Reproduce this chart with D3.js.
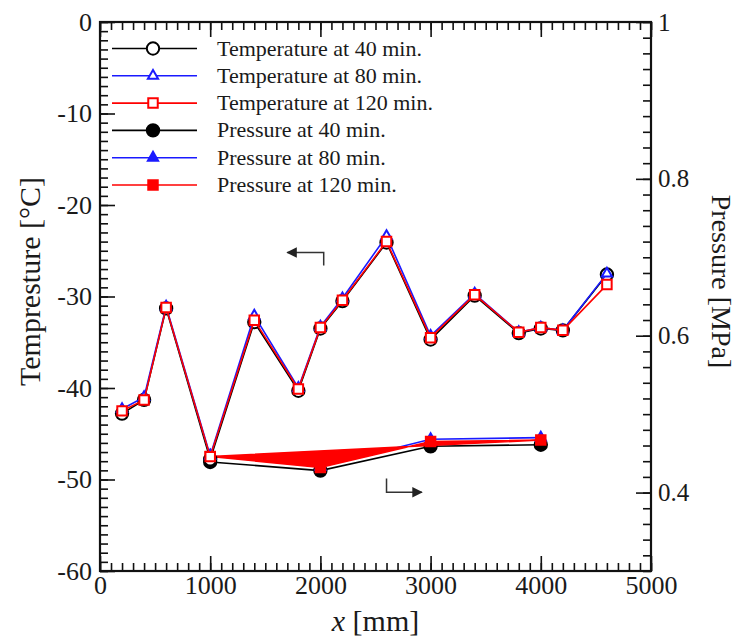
<!DOCTYPE html>
<html>
<head>
<meta charset="utf-8">
<script src="https://cdn.jsdelivr.net/npm/d3@7"></script>
<style>
  body { margin: 0; background: #fff; }
  svg text { font-family: "Liberation Serif", "Times New Roman", serif; fill: #1a1a1a; }
</style>
</head>
<body>
<div id="chart"></div>
<script>
// positions along the pipe [mm]
var tempX = [200, 400, 600, 1000, 1400, 1800, 2000, 2200, 2600, 3000, 3400, 3800, 4000, 4200, 4600];
var temp40 = [-42.8, -41.3, -31.3, -47.8, -32.8, -40.3, -33.5, -30.5, -24.1, -34.7, -29.9, -34.0, -33.5, -33.7, -27.6];
var temp80 = [-42.3, -41.0, -31.1, -47.4, -32.1, -40.0, -33.3, -30.2, -23.4, -34.3, -29.7, -33.9, -33.4, -33.7, -27.5];
var temp120 = [-42.5, -41.3, -31.2, -47.5, -32.6, -40.1, -33.4, -30.4, -24.0, -34.5, -29.8, -33.9, -33.4, -33.7, -28.7];

var presX = [1000, 2000, 3000, 4000];
var pres40 = [0.439, 0.428, 0.459, 0.461];
var pres80 = [0.447, 0.433, 0.468, 0.470];
var pres120 = [0.446, 0.432, 0.465, 0.467];

var xTicks = [0, 1000, 2000, 3000, 4000, 5000];
var tTicks = [0, -10, -20, -30, -40, -50, -60];
var pTicks = [0.4, 0.6, 0.8, 1];

var legendLabels = ["Temperature at 40 min.", "Temperature at 80 min.", "Temperature at 120 min.",
                    "Pressure at 40 min.", "Pressure at 80 min.", "Pressure at 120 min."];

var serif = "'Liberation Serif', 'Times New Roman', serif";

var margin = {top: 22, right: 88, bottom: 68, left: 100},
    width = 739 - margin.left - margin.right,
    height = 639 - margin.top - margin.bottom;

var svg = d3.select("#chart")
  .append("svg")
    .attr("width", 739)
    .attr("height", 639)
  .append("g")
    .attr("transform", "translate(" + margin.left + "," + margin.top + ")");

var x = d3.scaleLinear().domain([0, 5000]).range([0, width]);
var yT = d3.scaleLinear().domain([-60, 0]).range([height, 0]);
var yP = d3.scaleLinear().domain([0.3, 1]).range([height, 0]);

// minor tick positions
function minor(step, lo, hi) {
  return d3.range(lo, hi + step / 2, step);
}

// bottom axis
svg.append("g")
  .attr("transform", "translate(0," + height + ")")
  .call(d3.axisBottom(x).tickValues(minor(100, 0, 5000)).tickSize(-8).tickFormat(""));
svg.append("g")
  .attr("class", "major")
  .attr("transform", "translate(0," + height + ")")
  .call(d3.axisBottom(x).tickValues(xTicks).tickSize(-15).tickPadding(5).tickFormat(function(d) { return String(d); }));

// top axis
svg.append("g")
  .call(d3.axisTop(x).tickValues(minor(100, 0, 5000)).tickSize(-8).tickFormat(""));
svg.append("g")
  .call(d3.axisTop(x).tickValues(xTicks).tickSize(-15).tickFormat(""));

// left axis
svg.append("g")
  .call(d3.axisLeft(yT).tickValues(minor(1, -60, 0)).tickSize(-8).tickFormat(""));
svg.append("g")
  .attr("class", "major")
  .call(d3.axisLeft(yT).tickValues(tTicks).tickSize(-15).tickPadding(8).tickFormat(function(d) { return String(d); }));

// right axis
svg.append("g")
  .attr("transform", "translate(" + width + ",0)")
  .call(d3.axisRight(yP).tickValues(minor(0.02, 0.3, 1)).tickSize(-8).tickFormat(""));
svg.append("g")
  .attr("class", "major right")
  .attr("transform", "translate(" + width + ",0)")
  .call(d3.axisRight(yP).tickValues(pTicks).tickSize(-15).tickPadding(7).tickFormat(function(d) { return d === 1 ? "1" : d3.format(".1f")(d); }));

svg.selectAll(".domain").remove();
svg.selectAll(".major").attr("font-family", serif).attr("font-size", 26);
svg.selectAll(".right").attr("font-size", 25);
svg.selectAll(".tick line").attr("stroke", "#111").attr("stroke-width", 1.6);
svg.selectAll(".major .tick text").attr("fill", "#1a1a1a");

// frame
svg.append("rect")
  .attr("x", 0).attr("y", 0)
  .attr("width", width).attr("height", height)
  .attr("fill", "none")
  .attr("stroke", "#111")
  .attr("stroke-width", 2.2);

// marker shapes
var circ = d3.symbol().type(d3.symbolCircle).size(120);
var tri = d3.symbol().type(d3.symbolTriangle).size(45);
var sq = d3.symbol().type(d3.symbolSquare).size(90);

function series(xs, ys, yScale, color, shape, fill, closeFill) {
  var pts = xs.map(function(v, i) { return [x(v), yScale(ys[i])]; });
  var line = d3.line();
  svg.append("path")
    .attr("d", line(pts) + (closeFill ? "Z" : ""))
    .attr("fill", closeFill || "none")
    .attr("stroke", color)
    .attr("stroke-width", 1.6);
  svg.append("g")
    .selectAll("path")
    .data(pts)
    .enter()
    .append("path")
    .attr("transform", function(d) { return "translate(" + d[0] + "," + d[1] + ")"; })
    .attr("d", shape)
    .attr("fill", fill)
    .attr("stroke", color)
    .attr("stroke-width", 2);
}

// pressure first so temperature is drawn over it
series(presX, pres40, yP, "#000", circ, "#000");
series(presX, pres80, yP, "#1a1aff", tri, "#1a1aff");
series(presX, pres120, yP, "#ff0000", sq, "#ff0000", "#ff0000");

series(tempX, temp40, yT, "#000", circ, "#fff");
series(tempX, temp80, yT, "#1a1aff", tri, "#fff");
series(tempX, temp120, yT, "#ff0000", sq, "#fff");

// arrows showing which axis each group belongs to
svg.append("defs").append("marker")
  .attr("id", "head")
  .attr("viewBox", "0 0 10 10")
  .attr("refX", 9).attr("refY", 5)
  .attr("markerWidth", 7).attr("markerHeight", 7)
  .attr("orient", "auto")
  .append("path")
    .attr("d", "M0,0L10,5L0,10z")
    .attr("fill", "#222");

svg.append("path")
  .attr("d", "M" + x(2030) + "," + yT(-26.6) + "V" + yT(-25.2) + "H" + x(1700))
  .attr("fill", "none").attr("stroke", "#333").attr("stroke-width", 1.5)
  .attr("marker-end", "url(#head)");

svg.append("path")
  .attr("d", "M" + x(2600) + "," + yT(-49.9) + "V" + yT(-51.4) + "H" + x(2920))
  .attr("fill", "none").attr("stroke", "#333").attr("stroke-width", 1.5)
  .attr("marker-end", "url(#head)");

// legend
var legColors = ["#000", "#1a1aff", "#ff0000", "#000", "#1a1aff", "#ff0000"];
var legShapes = [circ, tri, sq, circ, tri, sq];
var legFills = ["#fff", "#fff", "#fff", "#000", "#1a1aff", "#ff0000"];

var leg = svg.append("g");
legendLabels.forEach(function(lab, i) {
  var ly = 26.5 + i * 27.3;
  leg.append("line")
    .attr("x1", 12).attr("x2", 97)
    .attr("y1", ly).attr("y2", ly)
    .attr("stroke", legColors[i])
    .attr("stroke-width", 1.6);
  leg.append("path")
    .attr("transform", "translate(53," + ly + ")")
    .attr("d", legShapes[i])
    .attr("fill", legFills[i])
    .attr("stroke", legColors[i])
    .attr("stroke-width", 2);
  leg.append("text")
    .attr("x", 117)
    .attr("y", ly + 7)
    .text(lab)
    .style("font-size", "22px");
});

// axis titles
svg.append("text")
  .attr("text-anchor", "middle")
  .attr("x", width / 2)
  .attr("y", height + 60)
  .style("font-size", "30px")
  .html('<tspan font-style="italic">x</tspan> [mm]');

svg.append("text")
  .attr("text-anchor", "middle")
  .attr("transform", "translate(-60," + (height / 2 - 15) + ")rotate(-90)")
  .style("font-size", "30px")
  .text("Tempresture [°C]");

svg.append("text")
  .attr("text-anchor", "middle")
  .attr("transform", "translate(" + (width + 61) + "," + (height / 2 - 15) + ")rotate(90)")
  .style("font-size", "28px")
  .text("Pressure [MPa]");
</script>
</body>
</html>
